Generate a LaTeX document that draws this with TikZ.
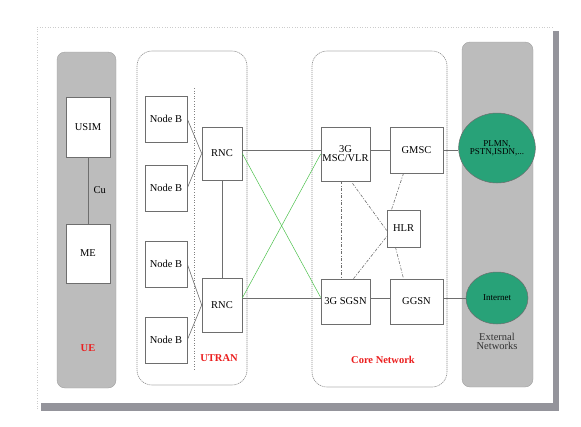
\documentclass[tikz,border=0pt]{standalone}
\usepackage{fontspec}
\setmainfont{Liberation Serif}
\usetikzlibrary{calc,shapes.geometric}
\definecolor{zonegray}{RGB}{188,188,188}
\definecolor{shadowgray}{RGB}{148,148,155}
\definecolor{netgreen}{RGB}{40,162,120}
\definecolor{lblred}{RGB}{235,30,30}
\definecolor{edgegray}{RGB}{110,110,110}
\tikzset{
  zonebox/.style={fill=zonegray, draw=zonegray!85!black, line width=0.4pt, rounded corners=8pt},
  netdomain/.style={draw=gray!90, dash pattern=on 1.2pt off 0.8pt, line width=0.6pt, rounded corners=15pt},
  elem/.style={draw=edgegray, line width=0.6pt, fill=white, inner sep=0pt, font=\fontsize{10.5}{11}\selectfont, align=center},
  netcloud/.style={ellipse, draw=edgegray, line width=0.5pt, fill=netgreen, inner sep=0pt, font=\fontsize{9}{9.5}\selectfont, align=center},
  link/.style={draw=edgegray, line width=0.6pt},
  glink/.style={draw=green!65!black!70, line width=0.5pt},
  dlink/.style={draw=edgegray, line width=0.6pt, dash pattern=on 3pt off 1.5pt on 1pt off 1.5pt},
  zlabel/.style={text=lblred, font=\bfseries\fontsize{10.5}{11}\selectfont},
  plaintext/.style={font=\fontsize{10.5}{11}\selectfont, align=center}
}
\begin{document}
\begin{tikzpicture}[x=1pt,y=-1pt]
\useasboundingbox (0,0) rectangle (581,426);
% frame and shadow
\fill[shadowgray] (553,31) rectangle (559,411);
\fill[shadowgray] (41,403) rectangle (559,411);
\draw[gray!40, dotted, line width=0.6pt] (37,409) -- (37,27) -- (553,27);
% zones
\draw[zonebox] (57,52) rectangle (116,388);
\draw[netdomain] (137,51) rectangle (247,385);
\draw[netdomain] (312,51) rectangle (447,387);
\draw[zonebox] (462,42) rectangle (533,387);
\draw[gray, dotted, line width=0.6pt] (194,88) -- (194,370);
% UE
\node[elem, minimum width=44pt, minimum height=60pt] (usim) at (88,127) {USIM};
\node[elem, minimum width=44pt, minimum height=59pt] (me) at (88,253.5) {ME};
\draw[link] (usim.south) -- (me.north) node[plaintext, midway, right=2pt] {Cu};
\node[zlabel] (uelbl) at (88,348) {UE};
% UTRAN
\node[elem, minimum width=42pt, minimum height=46pt] (nb1) at (166,119) {Node B};
\node[elem, minimum width=42pt, minimum height=46pt] (nb2) at (166,188) {Node B};
\node[elem, minimum width=42pt, minimum height=46pt] (nb3) at (166,264) {Node B};
\node[elem, minimum width=42pt, minimum height=46pt] (nb4) at (166,340) {Node B};
\node[elem, minimum width=40pt, minimum height=53pt] (rnc1) at (222,153.5) {RNC};
\node[elem, minimum width=40pt, minimum height=54pt] (rnc2) at (222,305) {RNC};
\node[zlabel] (utranlbl) at (219,358) {UTRAN};
\draw[link] (nb1.east) -- (rnc1.west);
\draw[link] (nb2.east) -- (rnc1.west);
\draw[link] (nb3.east) -- (rnc2.west);
\draw[link] (nb4.east) -- (rnc2.west);
\draw[link] (rnc1.south) -- (rnc2.north);
% Core network
\node[elem, minimum width=49pt, minimum height=54pt] (msc) at (345.5,154) {3G\\[-2pt]MSC/VLR};
\node[elem, minimum width=53pt, minimum height=46pt] (gmsc) at (416.5,150) {GMSC};
\node[elem, minimum width=33pt, minimum height=37pt] (hlr) at (403.5,228.5) {HLR};
\node[elem, minimum width=49pt, minimum height=45pt] (sgsn) at (345.5,301.5) {3G SGSN};
\node[elem, minimum width=53pt, minimum height=45pt] (ggsn) at (416.5,301.5) {GGSN};
\node[zlabel] (corelbl) at (383,360) {Core Network};
% External
\node[netcloud, minimum width=62pt, minimum height=70pt] (plmn) at (497,148) {PLMN,\\[-1pt]PSTN,ISDN,...};
\node[netcloud, minimum width=62pt, minimum height=52pt] (inet) at (497,298) {Internet};
\node[plaintext, text=black!80] (extlbl) at (497,341) {External\\[-2pt]Networks};
% links
\draw[link] (rnc1.east |- gmsc) -- (msc.west |- gmsc);
\draw[link] (msc.east |- gmsc) -- (gmsc.west);
\draw[link] (gmsc.east) -- (gmsc.east -| plmn.west);
\draw[link] (rnc2.east |- inet) -- (sgsn.west |- inet);
\draw[link] (sgsn.east |- inet) -- (ggsn.west |- inet);
\draw[link] (ggsn.east |- inet) -- (inet.west);
\draw[glink] (rnc1.east) -- ($(sgsn.west)+(0,-4)$);
\draw[glink] (rnc2.east |- inet) -- (msc.west);
\draw[dlink] ($(msc.south)+(-4.5,0)$) -- ($(sgsn.north)+(-4.5,0)$);
\draw[dlink] ($(msc.south)+(7,2)$) -- ($(hlr.west)+(0,2)$);
\draw[dlink] ($(sgsn.north)+(8,0)$) -- ($(hlr.west)+(0,8)$);
\draw[dlink] ($(gmsc.south)+(-13,0)$) -- ($(hlr.north)+(-12,0)$);
\draw[dlink] ($(hlr.south)+(-8,0)$) -- ($(ggsn.north)+(-13,0)$);
\end{tikzpicture}
\end{document}
